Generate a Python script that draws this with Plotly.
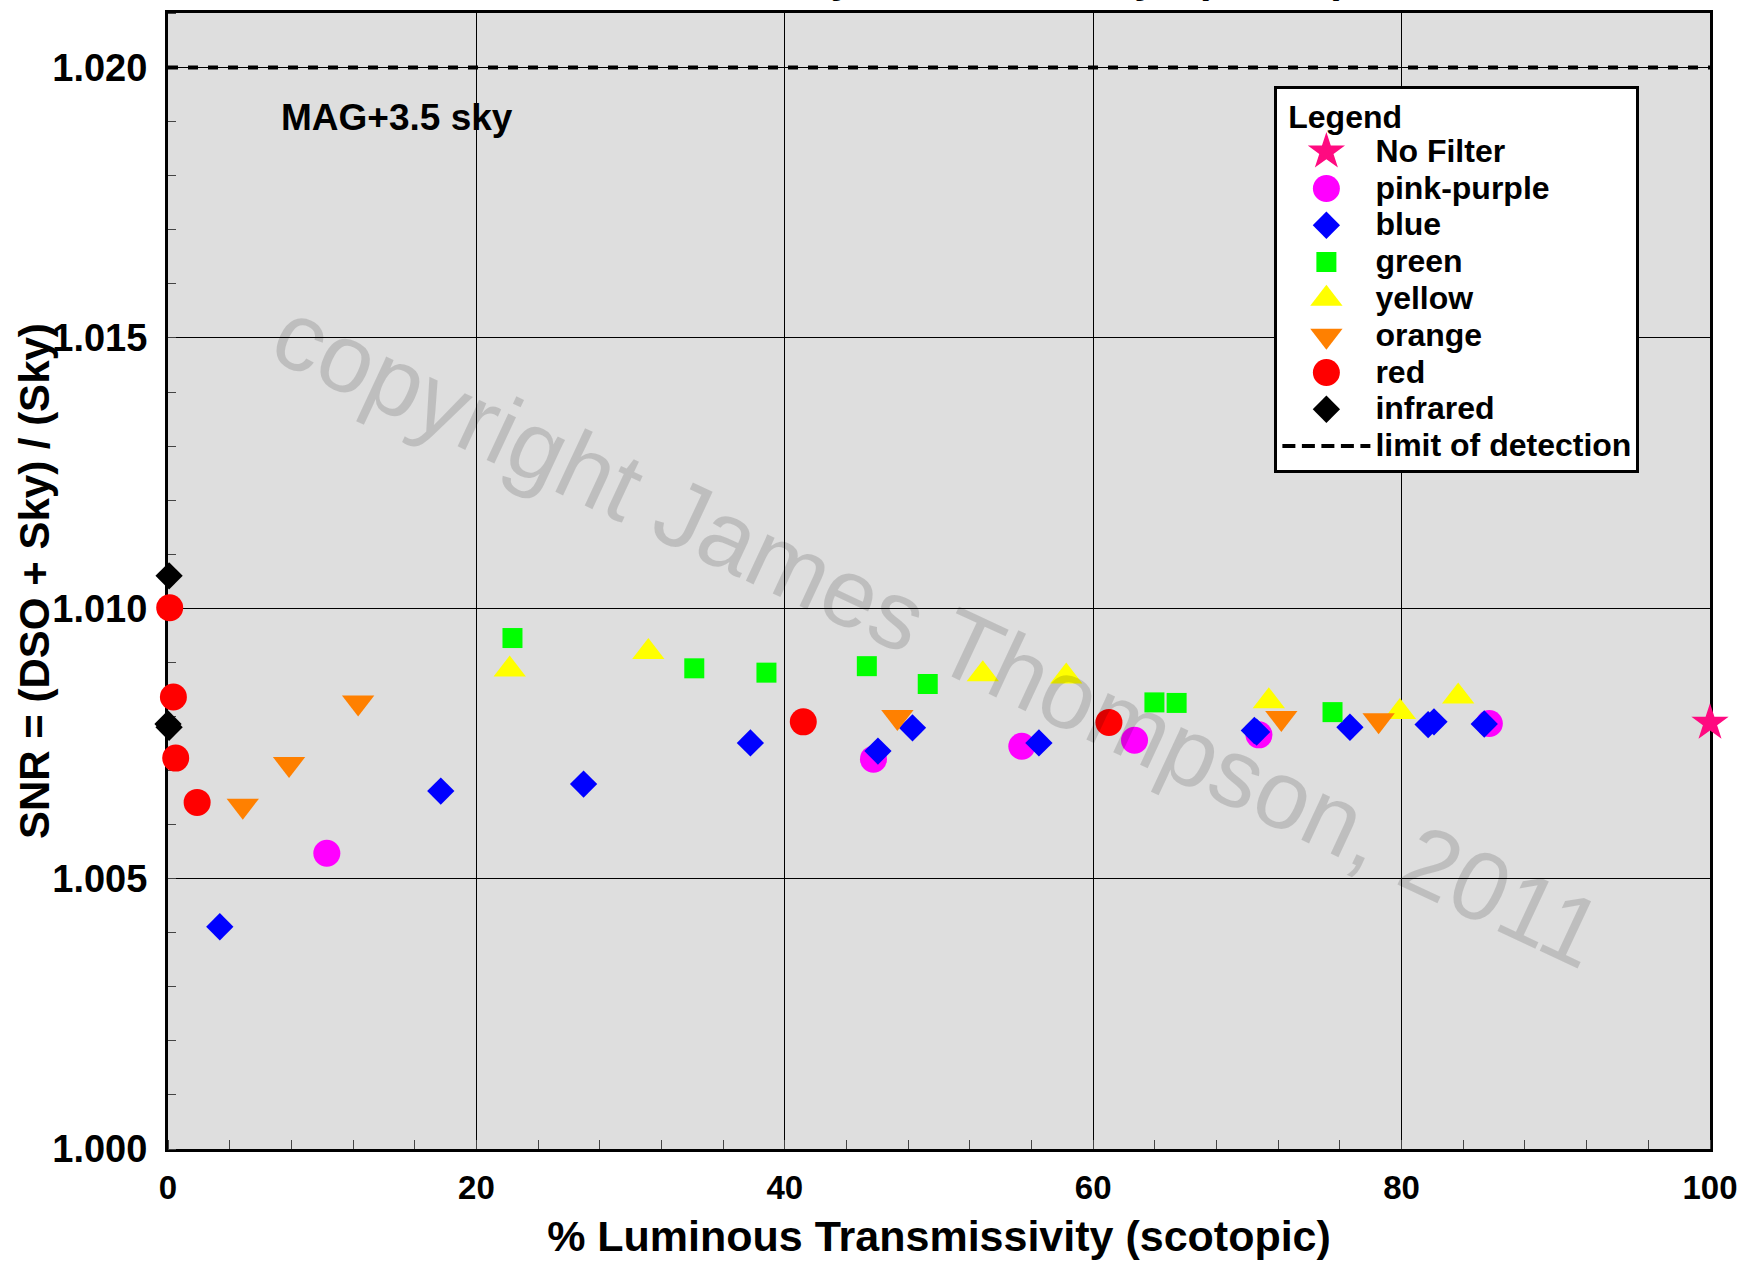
import plotly.graph_objects as go

# ---------------- data ----------------
nofilter_x = [100.0]
nofilter_y = [1.00788]

pink_x = [10.30, 45.75, 55.37, 62.68, 70.75, 85.69]
pink_y = [1.00547, 1.00721, 1.00745, 1.00756, 1.00766, 1.00787]

blue_x = [3.36, 17.69, 26.95, 37.77, 46.04, 48.28, 56.48, 70.45, 70.60, 76.65, 81.72, 82.10, 85.36]
blue_y = [1.00411, 1.00662, 1.00675, 1.00751, 1.00736, 1.00779, 1.00751, 1.00774, 1.00771,
          1.00780, 1.00785, 1.00790, 1.00786]

green_x = [22.34, 34.13, 38.81, 45.32, 49.27, 63.97, 65.41, 75.52]
green_y = [1.00945, 1.00889, 1.00881, 1.00893, 1.00860, 1.00826, 1.00825, 1.00808]

yellow_x = [22.16, 31.15, 52.84, 58.25, 71.39, 79.89, 83.67]
yellow_y = [1.00887, 1.00919, 1.00878, 1.00874, 1.00828, 1.00808, 1.00837]

orange_x = [4.85, 7.85, 12.33, 47.30, 72.20, 78.51]
orange_y = [1.00635, 1.00712, 1.00826, 1.00799, 1.00797, 1.00793]

red_x = [0.11, 0.35, 0.50, 1.89, 41.20, 61.02]
red_y = [1.01001, 1.00836, 1.00723, 1.00641, 1.00790, 1.00789]

ir_x = [0.07, 0.00, 0.07]
ir_y = [1.01060, 1.00786, 1.00780]

limit_x = [0, 100]
limit_y = [1.020, 1.020]

x_ticks = [0, 20, 40, 60, 80, 100]
y_ticks = [1.000, 1.005, 1.010, 1.015, 1.020]
y_tick_text = ["1.000", "1.005", "1.010", "1.015", "1.020"]

FONT = "Arial, Liberation Sans, sans-serif"
LEG_TXT = "<span style='font-size:32px'>%s</span>"

fig = go.Figure()

def add_pts(x, y, name, symbol, color, size):
    fig.add_trace(go.Scatter(
        x=x, y=y, mode="markers", name=LEG_TXT % name,
        marker=dict(symbol=symbol, color=color, size=size, line=dict(width=0)),
        cliponaxis=False,
    ))

add_pts(nofilter_x, nofilter_y, "No Filter", "star", "#FF0A80", 28)
add_pts(pink_x, pink_y, "pink-purple", "circle", "#FF00FF", 27)
add_pts(blue_x, blue_y, "blue", "diamond", "#0000FF", 21)
add_pts(green_x, green_y, "green", "square", "#00FF00", 20)
add_pts(yellow_x, yellow_y, "yellow", "triangle-up", "#FFFF00", 28)
add_pts(orange_x, orange_y, "orange", "triangle-down", "#FF8000", 28)
add_pts(red_x, red_y, "red", "circle", "#FF0000", 27)
add_pts(ir_x, ir_y, "infrared", "diamond", "#000000", 21)

fig.add_trace(go.Scatter(
    x=limit_x, y=limit_y, mode="lines", name=LEG_TXT % "limit of detection",
    line=dict(color="black", width=4, dash="10px,10px"),
))

axis_common = dict(
    showline=True, linecolor="black", linewidth=3, mirror=True,
    showgrid=True, gridcolor="black", gridwidth=1,
    zeroline=False, ticks="", layer="below traces",
)

fig.update_xaxes(
    range=[0, 100], tickvals=x_ticks,
    tickfont=dict(family=FONT, size=33, color="black", weight="bold"),
    ticklabelstandoff=7,
    minor=dict(ticks="inside", dtick=4, ticklen=9, tickcolor="#444444", tickwidth=1, showgrid=False),
    title=dict(text="% Luminous Transmissivity (scotopic)",
               font=dict(family=FONT, size=43, color="black", weight="bold"), standoff=17),
    **axis_common,
)
fig.update_yaxes(
    range=[1.000, 1.02101], tickvals=y_ticks, ticktext=y_tick_text,
    tickfont=dict(family=FONT, size=38, color="black", weight="bold"),
    ticklabelstandoff=10,
    minor=dict(ticks="inside", dtick=0.001, ticklen=8, tickcolor="#444444", tickwidth=1, showgrid=False),
    **axis_common,
)

# y-axis title
fig.add_annotation(
    text="SNR = (DSO + Sky) / (Sky)", xref="paper", yref="paper",
    x=-0.0869, y=0.5, xanchor="center", yanchor="middle", textangle=-90, showarrow=False,
    font=dict(family=FONT, size=42, color="black", weight="bold"),
)
fig.add_annotation(
    text="MAG+3.5 sky", xref="paper", yref="paper", x=0.0723, y=0.9077,
    xanchor="left", yanchor="middle", showarrow=False,
    font=dict(family=FONT, size=37, color="black", weight="bold"),
)
fig.add_annotation(
    text="copyright James Thompson, 2011", xref="paper", yref="paper",
    x=0.4995, y=0.454, xanchor="center", yanchor="middle", showarrow=False,
    textangle=25, font=dict(family=FONT, size=97, color="rgba(0,0,0,0.14)"),
)
# title, mostly cut off above the top of the page
fig.add_annotation(
    text="Relative SNR by Transmissivity - (IC 418)", xref="paper", yref="paper",
    x=0.5, y=1.0, xanchor="center", yanchor="bottom", yshift=10, showarrow=False,
    font=dict(family=FONT, size=42, color="black", weight="bold"),
)

fig.update_layout(
    width=1752, height=1263,
    margin=dict(l=168, r=42, t=10, b=114, pad=0),
    paper_bgcolor="white", plot_bgcolor="#DEDEDE",
    font=dict(family=FONT, color="black"),
    showlegend=True,
    legend=dict(
        x=0.7175, y=0.9355, xanchor="left", yanchor="top",
        bgcolor="white", bordercolor="black", borderwidth=3,
        font=dict(family=FONT, size=26, color="black", weight="bold"),
        title=dict(text="<span style='font-size:32px'>&nbsp;Legend</span>",
                   font=dict(family=FONT, size=30, color="black", weight="bold")),
        itemwidth=88, tracegroupgap=0,
    ),
)

post = """
document.body.style.margin = '0';
document.body.style.overflow = 'hidden';
document.querySelectorAll('.legend .traces').forEach(function(g){
  var d = g.__data__; var tr = d && d[0] && d[0].trace;
  if (!tr) return;
  if (tr.mode === 'lines') {
    g.querySelectorAll('.legendlines path').forEach(function(p){
      p.style.strokeDasharray = '13px,6.5px';
    });
    return;
  }
  if (!tr.marker) return;
  var s = tr.marker.size; if (!s || s <= 16) return;
  var k = s / 16;
  g.querySelectorAll('.legendpoints path').forEach(function(p){
    var t = p.getAttribute('transform') || '';
    p.setAttribute('transform', t + ' scale(' + k + ')');
  });
});
"""

fig.write_html("out.html", post_script=post, config={"displayModeBar": False})
